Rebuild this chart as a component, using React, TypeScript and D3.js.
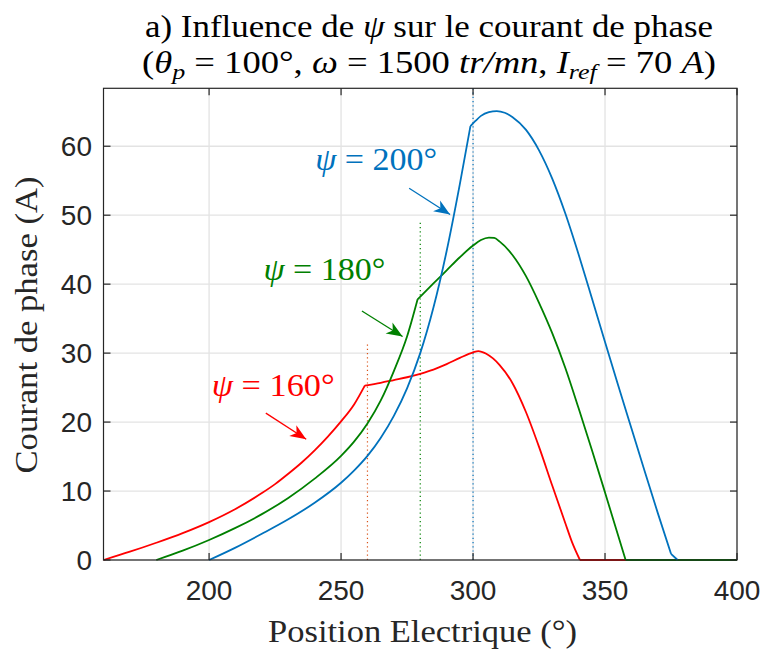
import React from "react";
import * as d3 from "d3";

// ---------- data ----------
const redX = [160, 170, 180, 190, 200, 210, 220, 225, 230, 235, 240, 245, 250, 255, 259, 265, 270, 275, 280, 285, 290, 295, 300, 302, 305, 310, 315, 320, 325, 330, 335, 337.5, 340.5, 400];
const redY = [0, 1.2, 2.5, 3.9, 5.5, 7.4, 9.7, 11.0, 12.5, 14.1, 15.9, 17.9, 20.1, 22.6, 25.3, 25.7, 26.1, 26.5, 27.0, 27.6, 28.4, 29.3, 30.1, 30.3, 29.9, 28.3, 25.6, 21.5, 16.4, 10.8, 5.3, 2.6, 0, 0];
const redKinks = [259, 340.5];

const greenX = [180, 190, 200, 210, 220, 230, 240, 250, 255, 260, 265, 270, 275, 279, 285, 290, 295, 300, 303, 306, 308, 310, 315, 320, 325, 330, 335, 340, 345, 350, 355, 357.8, 400];
const greenY = [0, 1.35, 2.9, 4.65, 6.65, 9.0, 11.8, 15.1, 17.2, 19.8, 23.1, 27.4, 32.4, 37.8, 40.1, 42.0, 43.9, 45.6, 46.4, 46.75, 46.7, 46.2, 44.2, 41.2, 37.3, 32.9, 27.8, 22.0, 16.0, 9.8, 3.5, 0, 0];
const greenKinks = [279, 357.8];

const blueX = [200, 210, 220, 230, 240, 250, 255, 260, 265, 270, 275, 280, 285, 290, 295, 299, 301, 303, 306, 309, 312, 315, 320, 325, 330, 335, 340, 345, 350, 355, 360, 365, 370, 375, 377.5];
const blueY = [0, 1.8, 3.8, 5.9, 8.3, 11.2, 13.0, 15.1, 17.7, 20.9, 24.9, 30.0, 36.6, 44.8, 54.5, 62.9, 63.7, 64.4, 64.95, 65.1, 64.85, 64.2, 62.4, 59.4, 55.3, 50.2, 44.3, 38.0, 31.6, 25.3, 19.1, 12.9, 6.8, 0.9, 0];
const blueKinks = [299, 375];

const xTicks = [200, 250, 300, 350, 400];
const yTicks = [0, 10, 20, 30, 40, 50, 60];

// vertical marker lines (x, top value)
const markerX = [260, 280, 300];
const markerTop = [31.5, 48.9, 68.4];

// annotation labels
const psiLabels = ["160", "180", "200"];
const labelAt = [[201.0, 23.8], [220.6, 40.6], [240.2, 56.5]];
const arrowTail = [[221.5, 21.3], [257.9, 36.1], [275.8, 53.9]];
const arrowTip = [[236.8, 17.5], [273.3, 32.4], [291.3, 50.1]];

// ---------- styles ----------
const W = 764, H = 653;
const L = 103.5, R = 737, T = 88.3, B = 560;
const RED = "#ff0000", GREEN = "#008000", BLUE = "#0072bd";
const colors = [RED, GREEN, BLUE];
const markerColors = ["#d95319", GREEN, BLUE];
const AX = "#262626";
const GRID = "#e3e3e3";
const SERIF = "'Liberation Serif', 'Times New Roman', serif";
const SANS = "'Liberation Sans', Arial, Helvetica, sans-serif";

export default function App() {
  const x = d3.scaleLinear().domain([160, 400]).range([L, R]);
  const y = d3.scaleLinear().domain([0, 68.4]).range([B, T]);
  const gen = d3
    .line<[number, number]>()
    .x((d) => x(d[0]))
    .y((d) => y(d[1]))
    .curve(d3.curveMonotoneX);

  // split a series at its kinks, each piece smoothed separately
  const mk = (xs: number[], ys: number[], kinks: number[]) => {
    const pts = xs.map((v, i) => [v, ys[i]] as [number, number]);
    const segs: [number, number][][] = [];
    let cur: [number, number][] = [];
    pts.forEach((p) => {
      cur.push(p);
      if (kinks.includes(p[0])) {
        segs.push(cur);
        cur = [p];
      }
    });
    if (cur.length > 1) segs.push(cur);
    return segs.map((s) => gen(s) || "").join("");
  };

  const series = [
    { xs: redX, ys: redY, k: redKinks, c: RED },
    { xs: greenX, ys: greenY, k: greenKinks, c: GREEN },
    { xs: blueX, ys: blueY, k: blueKinks, c: BLUE },
  ];

  const arrowHead = (tx: number, ty: number, fx: number, fy: number) => {
    const ang = Math.atan2(ty - fy, tx - fx);
    const Lh = 16, Wh = 6.5, notch = 0.72;
    const pts: [number, number][] = [
      [0, 0],
      [-Lh, Wh],
      [-Lh * notch, 0],
      [-Lh, -Wh],
    ];
    const rot = pts.map(([px, py]) => [
      tx + px * Math.cos(ang) - py * Math.sin(ang),
      ty + px * Math.sin(ang) + py * Math.cos(ang),
    ]);
    return "M" + rot.map((p) => p.join(",")).join("L") + "Z";
  };

  const labelWidths = [123, 122, 122];

  return (
    <svg
      width={W}
      height={H}
      style={{ position: "absolute", left: 0, top: 0, background: "#fff" }}
    >
      <rect x={0} y={0} width={W} height={H} fill="#fff" />
      {/* grid */}
      {xTicks.map((t) => (
        <line key={"gx" + t} x1={x(t)} x2={x(t)} y1={T} y2={B} stroke={GRID} strokeWidth={1.3} />
      ))}
      {yTicks.map((t) => (
        <line key={"gy" + t} x1={L} x2={R} y1={y(t)} y2={y(t)} stroke={GRID} strokeWidth={1.3} />
      ))}

      {/* marker dotted lines */}
      {markerX.map((m, i) => (
        <line
          key={"m" + i}
          x1={x(m)}
          x2={x(m)}
          y1={y(0)}
          y2={y(markerTop[i])}
          stroke={markerColors[i]}
          strokeWidth={1.2}
          strokeDasharray="1.2,3"
        />
      ))}

      {/* series */}
      {series.map((s, i) => (
        <path key={"s" + i} d={mk(s.xs, s.ys, s.k)} fill="none" stroke={s.c} strokeWidth={1.8} strokeLinejoin="round" />
      ))}

      {/* axes box */}
      <rect x={L} y={T} width={R - L} height={B - T} fill="none" stroke={AX} strokeWidth={1.2} />
      {xTicks.map((t) => (
        <g key={"tx" + t}>
          <line x1={x(t)} x2={x(t)} y1={B} y2={B - 7} stroke={AX} strokeWidth={1.2} />
          <line x1={x(t)} x2={x(t)} y1={T} y2={T + 7} stroke={AX} strokeWidth={1.2} />
          <text x={x(t)} y={599.5} textAnchor="middle" fontFamily={SANS} fontSize={28} fill={AX}>
            {t}
          </text>
        </g>
      ))}
      {yTicks.map((t) => (
        <g key={"ty" + t}>
          <line x1={L} x2={L + 7} y1={y(t)} y2={y(t)} stroke={AX} strokeWidth={1.2} />
          <line x1={R} x2={R - 7} y1={y(t)} y2={y(t)} stroke={AX} strokeWidth={1.2} />
          <text x={92} y={y(t) + 10} textAnchor="end" fontFamily={SANS} fontSize={28} fill={AX}>
            {t}
          </text>
        </g>
      ))}

      {/* annotations */}
      {psiLabels.map((lab, i) => (
        <g key={"a" + i} fill={colors[i]}>
          <text
            x={x(labelAt[i][0])}
            y={y(labelAt[i][1])}
            fontFamily={SERIF}
            fontSize={32}
            textLength={labelWidths[i]}
            lengthAdjust="spacingAndGlyphs"
          >
            <tspan fontStyle="italic">ψ</tspan>
            <tspan> = {lab}°</tspan>
          </text>
          <line
            x1={x(arrowTail[i][0])}
            y1={y(arrowTail[i][1])}
            x2={x(arrowTip[i][0])}
            y2={y(arrowTip[i][1])}
            stroke={colors[i]}
            strokeWidth={1.3}
          />
          <path
            d={arrowHead(x(arrowTip[i][0]), y(arrowTip[i][1]), x(arrowTail[i][0]), y(arrowTail[i][1]))}
            fill={colors[i]}
            stroke="none"
          />
        </g>
      ))}

      {/* title */}
      <text x={429} y={37} textAnchor="middle" fontFamily={SERIF} fontSize={31} fill="#000" textLength={568} lengthAdjust="spacingAndGlyphs">
        a) Influence de <tspan fontStyle="italic">ψ</tspan> sur le courant de phase
      </text>
      <text x={429} y={73} textAnchor="middle" fontFamily={SERIF} fontSize={31} fill="#000" textLength={574} lengthAdjust="spacingAndGlyphs">
        (<tspan fontStyle="italic">θ</tspan>
        <tspan fontStyle="italic" fontSize={22} dy={6}>p</tspan>
        <tspan dy={-6}> = 100°, </tspan>
        <tspan fontStyle="italic">ω</tspan>
        <tspan> = 1500 </tspan>
        <tspan fontStyle="italic">tr/mn</tspan>
        <tspan>, </tspan>
        <tspan fontStyle="italic">I</tspan>
        <tspan fontStyle="italic" fontSize={22} dy={6}>ref</tspan>
        <tspan dy={-6}> = 70 </tspan>
        <tspan fontStyle="italic">A</tspan>)
      </text>

      {/* axis labels */}
      <text x={422.5} y={642} textAnchor="middle" fontFamily={SERIF} fontSize={31} fill={AX} textLength={309} lengthAdjust="spacingAndGlyphs">
        Position Electrique (°)
      </text>
      <text
        transform={`translate(37,325) rotate(-90)`}
        textAnchor="middle"
        fontFamily={SERIF}
        fontSize={31}
        fill={AX}
        textLength={297}
        lengthAdjust="spacingAndGlyphs"
      >
        Courant de phase (A)
      </text>
    </svg>
  );
}
